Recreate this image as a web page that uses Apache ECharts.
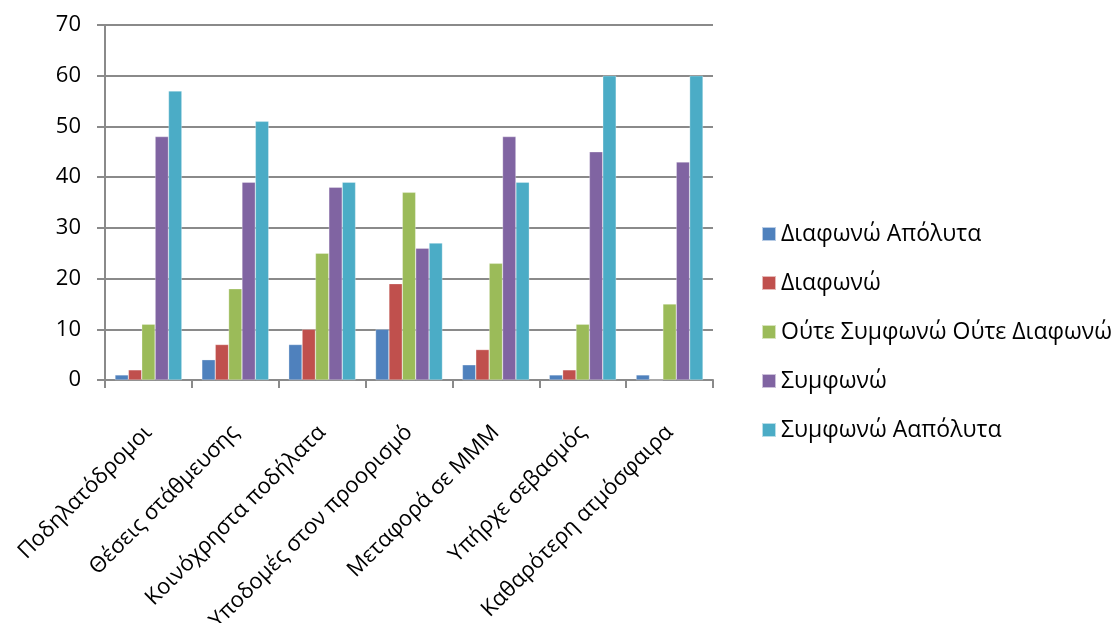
<!DOCTYPE html>
<html>
<head>
<meta charset="utf-8">
<script src="https://cdn.jsdelivr.net/npm/echarts@6/dist/echarts.min.js"></script>
<style>
html,body{margin:0;padding:0;background:#fff;}
#chart{width:1118px;height:623px;}
</style>
</head>
<body>
<div id="chart"></div>
<script>
// Survey answers per statement
const categories = ['Ποδηλατόδρομοι', 'Θέσεις στάθμευσης', 'Κοινόχρηστα ποδήλατα', 'Υποδομές στον προορισμό', 'Μεταφορά σε ΜΜΜ', 'Υπήρχε σεβασμός', 'Καθαρότερη ατμόσφαιρα'];
const seriesNames = ['Διαφωνώ Απόλυτα', 'Διαφωνώ', 'Ούτε Συμφωνώ Ούτε Διαφωνώ', 'Συμφωνώ', 'Συμφωνώ Ααπόλυτα'];
const disagreeStrongly = [1, 4, 7, 10, 3, 1, 1];
const disagree = [2, 7, 10, 19, 6, 2, 0];
const neutral = [11, 18, 25, 37, 23, 11, 15];
const agree = [48, 39, 38, 26, 48, 45, 43];
const agreeStrongly = [57, 51, 39, 27, 39, 60, 60];
const yTicks = [0, 10, 20, 30, 40, 50, 60, 70];

const colors = ['#4F81BD', '#C0504D', '#9BBB59', '#8064A2', '#4BACC6'];
const values = [disagreeStrongly, disagree, neutral, agree, agreeStrongly];
const font = 'Open Sans';
const axisGray = '#8a8a8a';

const chart = echarts.init(document.getElementById('chart'));
chart.setOption({
  animation: false,
  color: colors,
  grid: { left: 105, right: 405, top: 25, bottom: 243, containLabel: false, outerBoundsMode: 'none' },
  legend: {
    orient: 'vertical',
    left: 756,
    top: 217,
    itemWidth: 14,
    itemHeight: 14,
    itemGap: 25,
    icon: 'rect',
    textStyle: { fontFamily: font, fontSize: 23, lineHeight: 24, color: '#000' },
    data: seriesNames
  },
  xAxis: {
    type: 'category',
    data: categories,
    axisLine: { lineStyle: { color: axisGray, width: 2 } },
    axisTick: { show: true, length: 8, lineStyle: { color: axisGray, width: 2 } },
    axisLabel: { rotate: 45, interval: 0, margin: 49, fontFamily: font, fontSize: 22, color: '#000' }
  },
  yAxis: {
    type: 'value',
    min: yTicks[0],
    max: yTicks[yTicks.length - 1],
    interval: 10,
    axisLine: { show: true, lineStyle: { color: axisGray, width: 2 } },
    axisTick: { show: true, length: 8, lineStyle: { color: axisGray, width: 2 } },
    axisLabel: { margin: 24, fontFamily: font, fontSize: 22, color: '#000' },
    splitLine: { lineStyle: { color: axisGray, width: 2 } }
  },
  series: seriesNames.map((name, i) => ({
    name: name,
    type: 'bar',
    data: values[i],
    barGap: '0%',
    barCategoryGap: '23%',
    itemStyle: { color: colors[i], borderColor: 'rgba(255,255,255,0.6)', borderWidth: 0.5 }
  }))
});
</script>
</body>
</html>
